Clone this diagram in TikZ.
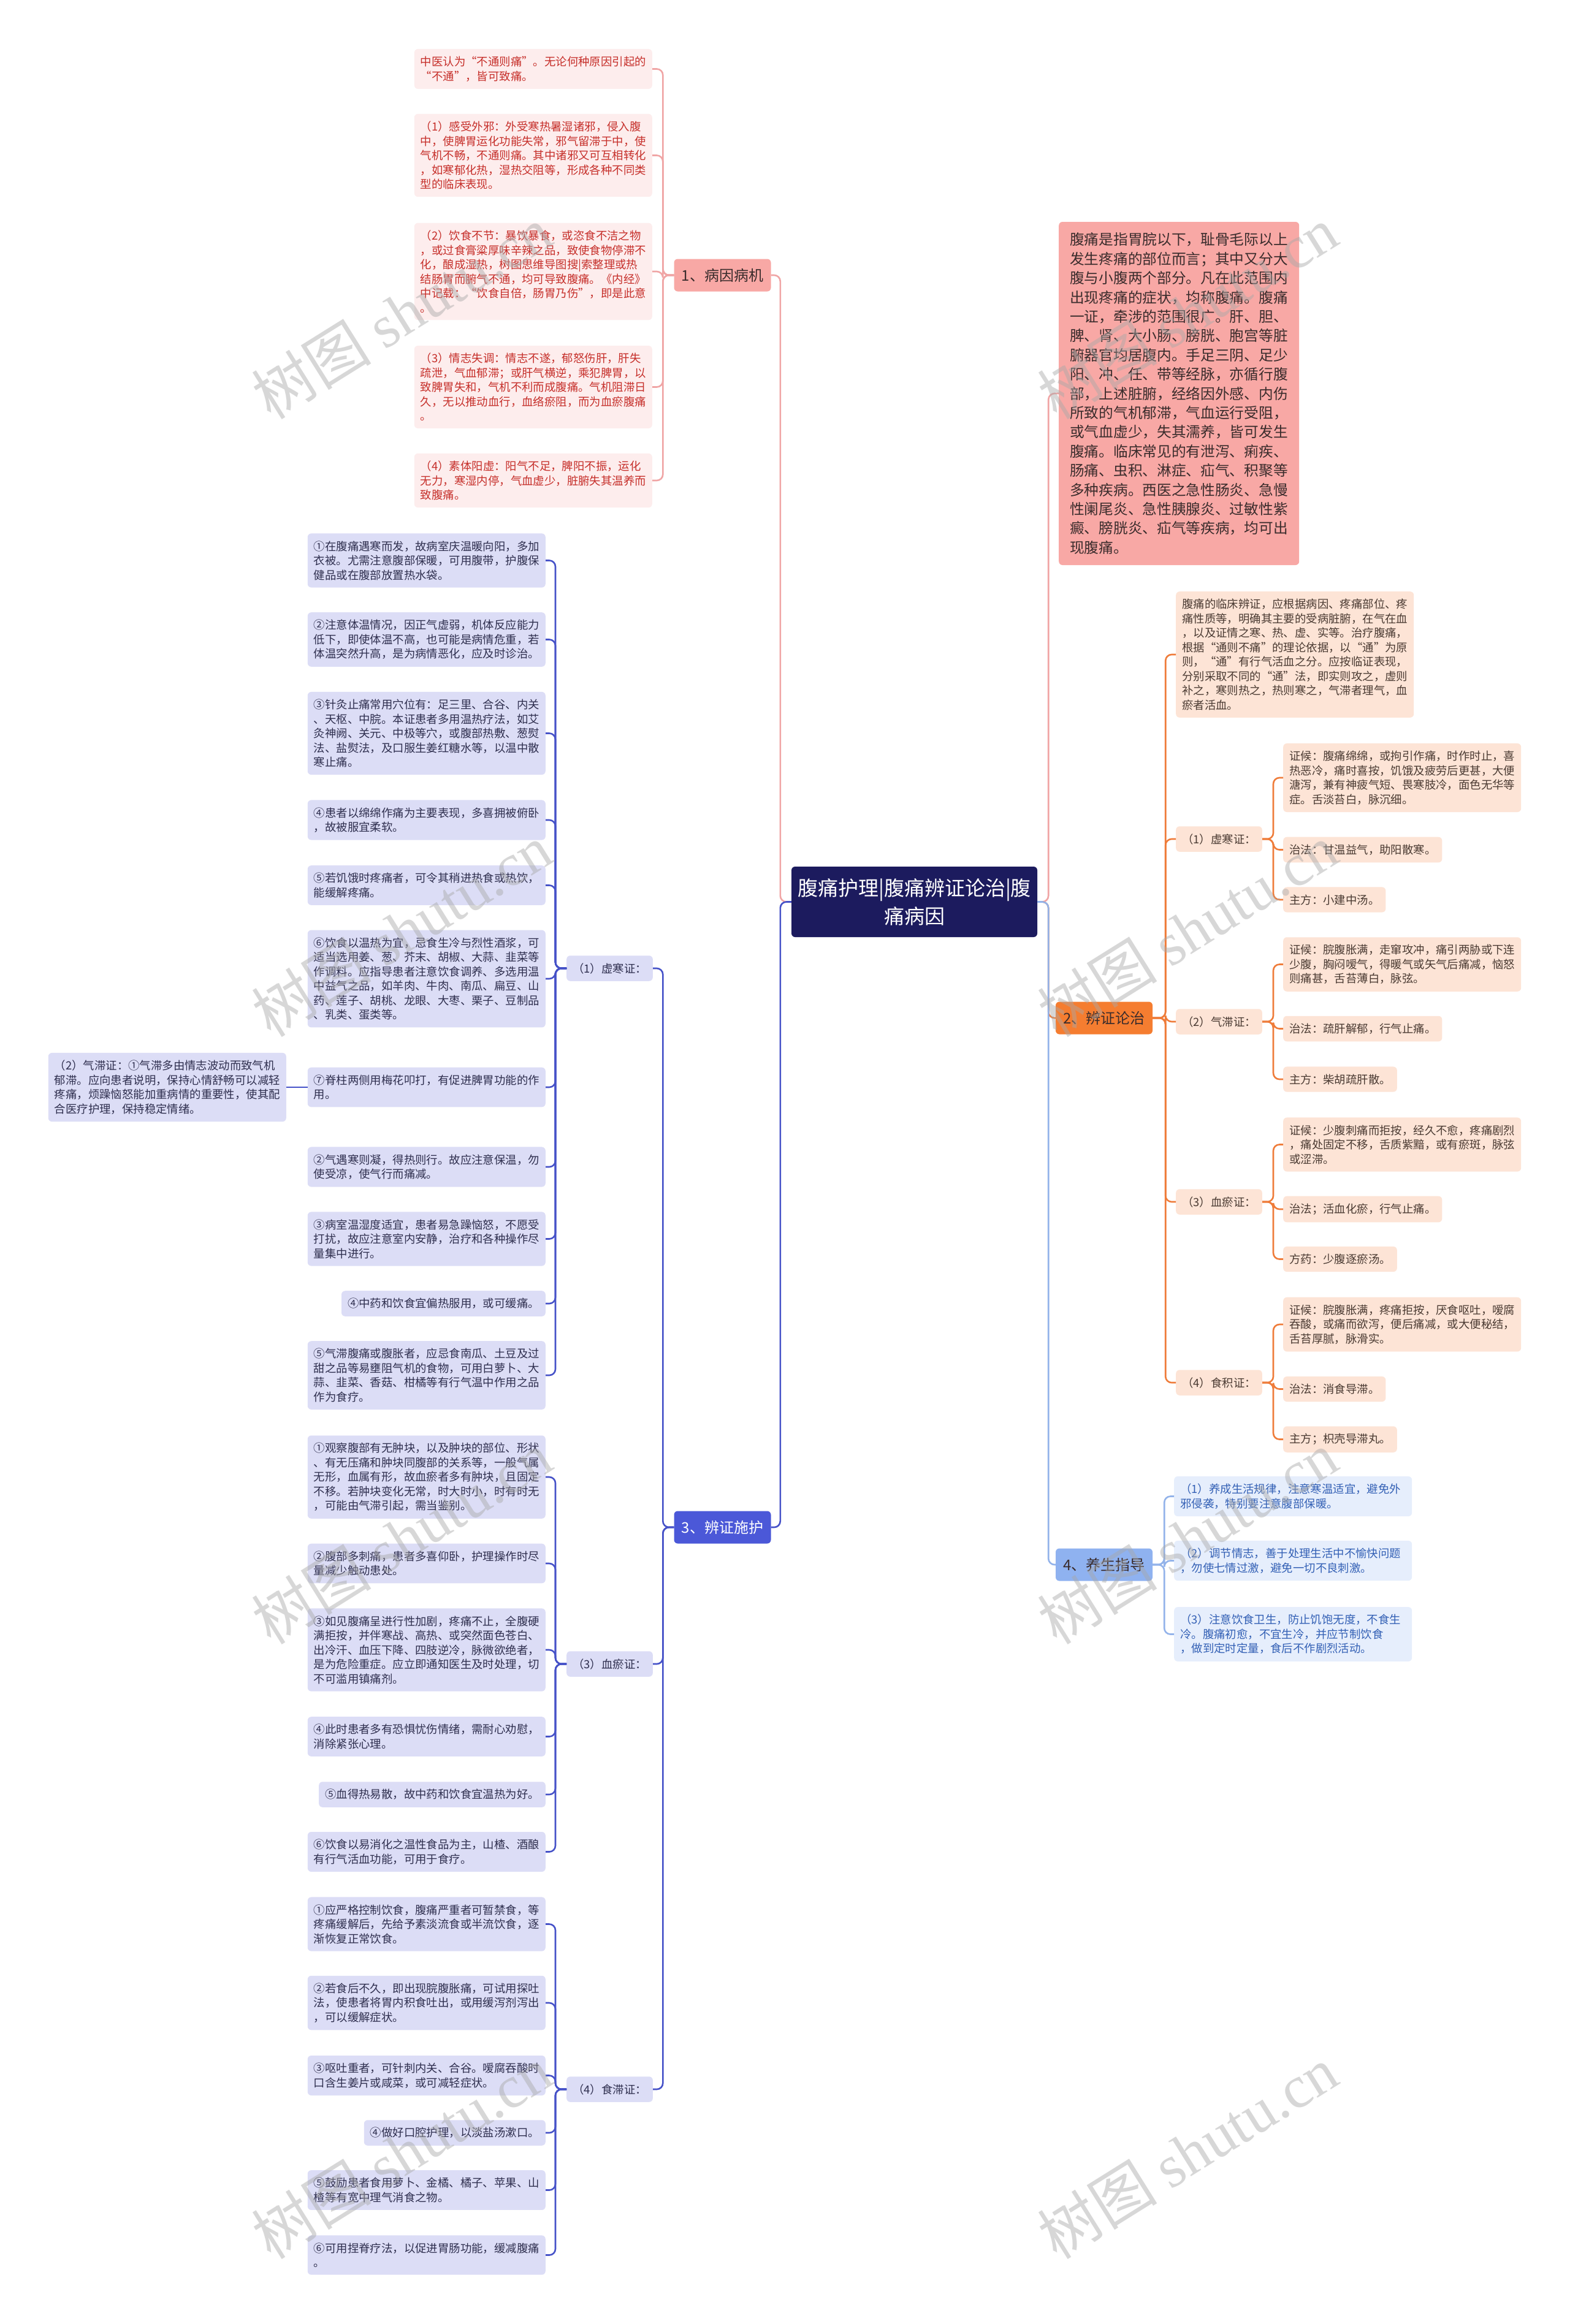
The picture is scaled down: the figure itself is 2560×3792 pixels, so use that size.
\documentclass[tikz,border=0pt]{standalone}
\usepackage{fontspec}
\setmainfont{Noto Sans CJK SC}
\newfontfamily\wmlatin{Liberation Serif}
\definecolor{navy}{HTML}{1C1B5E}
\definecolor{pinkmain}{HTML}{F8A8A5}
\definecolor{pinkline}{HTML}{F0A5A5}
\definecolor{pinkfill}{HTML}{FDEDED}
\definecolor{pinktext}{HTML}{C62F2A}
\definecolor{darktext}{HTML}{3A2C2C}
\definecolor{orangemain}{HTML}{F57D30}
\definecolor{orangeline}{HTML}{EF7C3A}
\definecolor{orangefill}{HTML}{FDE4D6}
\definecolor{orangetext}{HTML}{4A3A32}
\definecolor{bluemain}{HTML}{4B58D8}
\definecolor{blueline}{HTML}{4652C8}
\definecolor{lavfill}{HTML}{DCDDF6}
\definecolor{lavtext}{HTML}{2F2F4F}
\definecolor{skymain}{HTML}{8FB2F0}
\definecolor{skyline}{HTML}{93B3EA}
\definecolor{skyfill}{HTML}{E6EEFC}
\definecolor{skytext}{HTML}{3360B5}
\definecolor{wmgray}{HTML}{A8A8A8}
\tikzset{
 base/.style={rounded corners=6pt, inner xsep=10pt, inner ysep=12pt, align=left, font=\fontsize{18.4}{23.5}\selectfont},
 wide/.style={text width=368pt},
 pinkleaf/.style={base, fill=pinkfill, text=pinktext, anchor=east},
 lavleaf/.style={base, fill=lavfill, text=lavtext, anchor=east},
 orleaf/.style={base, fill=orangefill, text=orangetext, anchor=west},
 skyleaf/.style={base, fill=skyfill, text=skytext, anchor=west},
 branchbox/.style={rounded corners=6pt, minimum width=158pt, minimum height=53pt, inner sep=0pt, font=\fontsize{24}{28}\selectfont},
 lk/.style={line width=2.6pt, rounded corners=10pt},
 wm/.style={text=wmgray, opacity=0.45, font=\fontsize{98}{100}\selectfont, rotate=32, inner sep=0pt},
}
\begin{document}
\begin{tikzpicture}[x=1pt,y=-1pt]
\useasboundingbox (0,0) rectangle (2560,3792);
\fill[white] (0,0) rectangle (2560,3792);

% centre
\node[fill=navy, text=white, rounded corners=6pt, minimum width=401pt, minimum height=115pt, inner sep=0pt, align=center, font=\fontsize{33}{46}\selectfont] (c) at (1491.5,1471.5) {腹痛护理|腹痛辨证论治|腹\\痛病因};

% level-1 branches
\node[branchbox, fill=pinkmain, text=darktext] (b1) at (1178.5,449) {1、病因病机};
\node[branchbox, fill=orangemain, text=darktext] (b2) at (1801,1661) {2、辨证论治};
\node[branchbox, fill=bluemain, text=white] (b3) at (1178.5,2492) {3、辨证施护};
\node[branchbox, fill=skymain, text=darktext] (b4) at (1801,2553) {4、养生指导};

\node[rounded corners=6pt, fill=pinkmain, text=darktext, anchor=west, text width=356pt, minimum height=560pt, inner xsep=18pt, inner ysep=4pt, align=left, font=\fontsize{23.7}{31.4}\selectfont] (r0) at (1727,642) {腹痛是指胃脘以下，耻骨毛际以上\\发生疼痛的部位而言；其中又分大\\腹与小腹两个部分。凡在此范围内\\出现疼痛的症状，均称腹痛。腹痛\\一证，牵涉的范围很广。肝、胆、\\脾、肾、大小肠、膀胱、胞宫等脏\\腑器官均居腹内。手足三阴、足少\\阳、冲、任、带等经脉，亦循行腹\\部，上述脏腑，经络因外感、内伤\\所致的气机郁滞，气血运行受阻，\\或气血虚少，失其濡养，皆可发生\\腹痛。临床常见的有泄泻、痢疾、\\肠痛、虫积、淋症、疝气、积聚等\\多种疾病。西医之急性肠炎、急慢\\性阑尾炎、急性胰腺炎、过敏性紫\\癜、膀胱炎、疝气等疾病，均可出\\现腹痛。};

% branch 1 children
\node[pinkleaf, wide] (p0) at (1064,112.5) {中医认为“不通则痛”。无论何种原因引起的\\“不通”，皆可致痛。};
\node[pinkleaf, wide] (p1) at (1064,253.5) {（1）感受外邪：外受寒热暑湿诸邪，侵入腹\\中，使脾胃运化功能失常，邪气留滞于中，使\\气机不畅，不通则痛。其中诸邪又可互相转化\\，如寒郁化热，湿热交阻等，形成各种不同类\\型的临床表现。};
\node[pinkleaf, wide] (p2) at (1064,443) {（2）饮食不节：暴饮暴食，或恣食不洁之物\\，或过食膏粱厚味辛辣之品，致使食物停滞不\\化，酿成湿热，树图思维导图搜|索整理或热\\结肠胃而腑气不通，均可导致腹痛。《内经》\\中记载：“饮食自倍，肠胃乃伤”，即是此意\\。};
\node[pinkleaf, wide] (p3) at (1064,631.5) {（3）情志失调：情志不遂，郁怒伤肝，肝失\\疏泄，气血郁滞；或肝气横逆，乘犯脾胃，以\\致脾胃失和，气机不利而成腹痛。气机阻滞日\\久，无以推动血行，血络瘀阻，而为血瘀腹痛\\。};
\node[pinkleaf, wide] (p4) at (1064,784) {（4）素体阳虚：阳气不足，脾阳不振，运化\\无力，寒湿内停，气血虚少，脏腑失其温养而\\致腹痛。};

% branch 2 children
\node[orleaf, wide] (o0) at (1918,1068) {腹痛的临床辨证，应根据病因、疼痛部位、疼\\痛性质等，明确其主要的受病脏腑，在气在血\\，以及证情之寒、热、虚、实等。治疗腹痛，\\根据“通则不痛”的理论依据，以“通”为原\\则，“通”有行气活血之分。应按临证表现，\\分别采取不同的“通”法，即实则攻之，虚则\\补之，寒则热之，热则寒之，气滞者理气，血\\瘀者活血。};
\node[orleaf] (x1) at (1918,1369) {（1）虚寒证：};
\node[orleaf, wide] (x1a) at (2093,1269) {证候：腹痛绵绵，或拘引作痛，时作时止，喜\\热恶冷，痛时喜按，饥饿及疲劳后更甚，大便\\溏泻，兼有神疲气短、畏寒肢冷，面色无华等\\症。舌淡苔白，脉沉细。};
\node[orleaf] (x1b) at (2093,1386.5) {治法：甘温益气，助阳散寒。};
\node[orleaf] (x1c) at (2093,1468) {主方：小建中汤。};
\node[orleaf] (x2) at (1918,1667) {（2）气滞证：};
\node[orleaf, wide] (x2a) at (2093,1573.5) {证候：脘腹胀满，走窜攻冲，痛引两胁或下连\\少腹，胸闷嗳气，得暖气或矢气后痛减，恼怒\\则痛甚，舌苔薄白，脉弦。};
\node[orleaf] (x2b) at (2093,1678.5) {治法：疏肝解郁，行气止痛。};
\node[orleaf] (x2c) at (2093,1761) {主方：柴胡疏肝散。};
\node[orleaf] (x3) at (1918,1961) {（3）血瘀证：};
\node[orleaf, wide] (x3a) at (2093,1867.5) {证候：少腹刺痛而拒按，经久不愈，疼痛剧烈\\，痛处固定不移，舌质紫黯，或有瘀斑，脉弦\\或涩滞。};
\node[orleaf] (x3b) at (2093,1973) {治法；活血化瘀，行气止痛。};
\node[orleaf] (x3c) at (2093,2054.5) {方药：少腹逐瘀汤。};
\node[orleaf] (x4) at (1918,2256) {（4）食积证：};
\node[orleaf, wide] (x4a) at (2093,2161) {证候：脘腹胀满，疼痛拒按，厌食呕吐，嗳腐\\吞酸，或痛而欲泻，便后痛减，或大便秘结，\\舌苔厚腻，脉滑实。};
\node[orleaf] (x4b) at (2093,2266.5) {治法：消食导滞。};
\node[orleaf] (x4c) at (2093,2348.5) {主方；枳壳导滞丸。};

% branch 4 children
\node[skyleaf, wide] (s1) at (1915,2441.5) {（1）养成生活规律，注意寒温适宜，避免外\\邪侵袭，特别要注意腹部保暖。};
\node[skyleaf, wide] (s2) at (1915,2546.5) {（2）调节情志，善于处理生活中不愉快问题\\，勿使七情过激，避免一切不良刺激。};
\node[skyleaf, wide] (s3) at (1915,2666.5) {（3）注意饮食卫生，防止饥饱无度，不食生\\冷。腹痛初愈，不宜生冷，并应节制饮食\\，做到定时定量，食后不作剧烈活动。};

% branch 3 sub-branches
\node[lavleaf] (l1) at (1065,1580) {（1）虚寒证：};
\node[lavleaf] (l3) at (1065,2715) {（3）血瘀证：};
\node[lavleaf] (l4) at (1065,3409) {（4）食滞证：};

\node[lavleaf, wide] (a1) at (890,914.5) {①在腹痛遇寒而发，故病室庆温暖向阳，多加\\衣被。尤需注意腹部保暖，可用腹带，护腹保\\健品或在腹部放置热水袋。};
\node[lavleaf, wide] (a2) at (890,1043.5) {②注意体温情况，因正气虚弱，机体反应能力\\低下，即使体温不高，也可能是病情危重，若\\体温突然升高，是为病情恶化，应及时诊治。};
\node[lavleaf, wide] (a3) at (890,1196.5) {③针灸止痛常用穴位有：足三里、合谷、内关\\、天枢、中脘。本证患者多用温热疗法，如艾\\灸神阙、关元、中极等穴，或腹部热敷、葱熨\\法、盐熨法，及口服生姜红糖水等，以温中散\\寒止痛。};
\node[lavleaf, wide] (a4) at (890,1338) {④患者以绵绵作痛为主要表现，多喜拥被俯卧\\，故被服宜柔软。};
\node[lavleaf, wide] (a5) at (890,1444.5) {⑤若饥饿时疼痛者，可令其稍进热食或热饮，\\能缓解疼痛。};
\node[lavleaf, wide] (a6) at (890,1597) {⑥饮食以温热为宜，忌食生冷与烈性酒浆，可\\适当选用姜、葱、芥末、胡椒、大蒜、韭菜等\\作调料。应指导患者注意饮食调养、多选用温\\中益气之品，如羊肉、牛肉、南瓜、扁豆、山\\药、莲子、胡桃、龙眼、大枣、栗子、豆制品\\、乳类、蛋类等。};
\node[lavleaf, wide] (a7) at (890,1774) {⑦脊柱两侧用梅花叩打，有促进脾胃功能的作\\用。};
\node[lavleaf, wide] (q) at (467,1774) {（2）气滞证：①气滞多由情志波动而致气机\\郁滞。应向患者说明，保持心情舒畅可以减轻\\疼痛，烦躁恼怒能加重病情的重要性，使其配\\合医疗护理，保持稳定情绪。};
\node[lavleaf, wide] (a8) at (890,1904) {②气遇寒则凝，得热则行。故应注意保温，勿\\使受凉，使气行而痛减。};
\node[lavleaf, wide] (a9) at (890,2021.5) {③病室温湿度适宜，患者易急躁恼怒，不愿受\\打扰，故应注意室内安静，治疗和各种操作尽\\量集中进行。};
\node[lavleaf] (a10) at (890,2127) {④中药和饮食宜偏热服用，或可缓痛。};
\node[lavleaf, wide] (a11) at (890,2244) {⑤气滞腹痛或腹胀者，应忌食南瓜、土豆及过\\甜之品等易壅阻气机的食物，可用白萝卜、大\\蒜、韭菜、香菇、柑橘等有行气温中作用之品\\作为食疗。};

\node[lavleaf, wide] (cc1) at (890,2410) {①观察腹部有无肿块，以及肿块的部位、形状\\、有无压痛和肿块同腹部的关系等，一般气属\\无形，血属有形，故血瘀者多有肿块，且固定\\不移。若肿块变化无常，时大时小，时有时无\\，可能由气滞引起，需当鉴别。};
\node[lavleaf, wide] (cc2) at (890,2551) {②腹部多刺痛，患者多喜仰卧，护理操作时尽\\量减少触动患处。};
\node[lavleaf, wide] (cc3) at (890,2692) {③如见腹痛呈进行性加剧，疼痛不止，全腹硬\\满拒按，并伴寒战、高热、或突然面色苍白、\\出冷汗、血压下降、四肢逆冷，脉微欲绝者，\\是为危险重症。应立即通知医生及时处理，切\\不可滥用镇痛剂。};
\node[lavleaf, wide] (cc4) at (890,2833.5) {④此时患者多有恐惧忧伤情绪，需耐心劝慰，\\消除紧张心理。};
\node[lavleaf] (cc5) at (890,2928) {⑤血得热易散，故中药和饮食宜温热为好。};
\node[lavleaf, wide] (cc6) at (890,3021.5) {⑥饮食以易消化之温性食品为主，山楂、酒酿\\有行气活血功能，可用于食疗。};

\node[lavleaf, wide] (d1) at (890,3139.5) {①应严格控制饮食，腹痛严重者可暂禁食，等\\疼痛缓解后，先给予素淡流食或半流饮食，逐\\渐恢复正常饮食。};
\node[lavleaf, wide] (d2) at (890,3268) {②若食后不久，即出现脘腹胀痛，可试用探吐\\法，使患者将胃内积食吐出，或用缓泻剂泻出\\，可以缓解症状。};
\node[lavleaf, wide] (d3) at (890,3386.5) {③呕吐重者，可针刺内关、合谷。嗳腐吞酸时\\口含生姜片或咸菜，或可减轻症状。};
\node[lavleaf] (d4) at (890,3480) {④做好口腔护理，以淡盐汤漱口。};
\node[lavleaf, wide] (d5) at (890,3573.5) {⑤鼓励患者食用萝卜、金橘、橘子、苹果、山\\楂等有宽中理气消食之物。};
\node[lavleaf, wide] (d6) at (890,3679.5) {⑥可用捏脊疗法，以促进胃肠功能，缓减腹痛\\。};

% connectors
\draw[lk, pinkline] (c.west) -- ++(-18,0) |- (b1.east);
\draw[lk, blueline] (c.west) -- ++(-18,0) |- (b3.east);
\draw[lk, pinkline] (c.east) -- ++(18,0) |- (r0.west);
\draw[lk, orangeline] (c.east) -- ++(18,0) |- (b2.west);
\draw[lk, skyline] (c.east) -- ++(18,0) |- (b4.west);

\foreach \n in {p0,p1,p2,p3,p4} \draw[lk, pinkline] (b1.west) -- ++(-18,0) |- (\n.east);
\foreach \n in {o0,x1,x2,x3,x4} \draw[lk, orangeline] (b2.east) -- ++(21,0) |- (\n.west);
\foreach \n in {x1a,x1b,x1c} \draw[lk, orangeline] (x1.east) -- ++(18,0) |- (\n.west);
\foreach \n in {x2a,x2b,x2c} \draw[lk, orangeline] (x2.east) -- ++(18,0) |- (\n.west);
\foreach \n in {x3a,x3b,x3c} \draw[lk, orangeline] (x3.east) -- ++(18,0) |- (\n.west);
\foreach \n in {x4a,x4b,x4c} \draw[lk, orangeline] (x4.east) -- ++(18,0) |- (\n.west);
\foreach \n in {s1,s2,s3} \draw[lk, skyline] (b4.east) -- ++(19,0) |- (\n.west);
\foreach \n in {l1,l3,l4} \draw[lk, blueline] (b3.west) -- ++(-18,0) |- (\n.east);
\foreach \n in {a1,a2,a3,a4,a5,a6,a7,a8,a9,a10,a11} \draw[lk, blueline] (l1.west) -- ++(-18,0) |- (\n.east);
\foreach \n in {cc1,cc2,cc3,cc4,cc5,cc6} \draw[lk, blueline] (l3.west) -- ++(-18,0) |- (\n.east);
\foreach \n in {d1,d2,d3,d4,d5,d6} \draw[lk, blueline] (l4.west) -- ++(-18,0) |- (\n.east);
\draw[lk, blueline] (a7.west) -- (q.east);

% watermarks
\foreach \wx/\wy [count=\i] in {655/510, 1937/510, 655/1518, 1937/1518, 655/2509, 1937/2509, 655/3512, 1937/3512}
  \node[wm] (wm\i) at (\wx,\wy) {树图 {\wmlatin shutu.cn}};
\end{tikzpicture}
\end{document}
